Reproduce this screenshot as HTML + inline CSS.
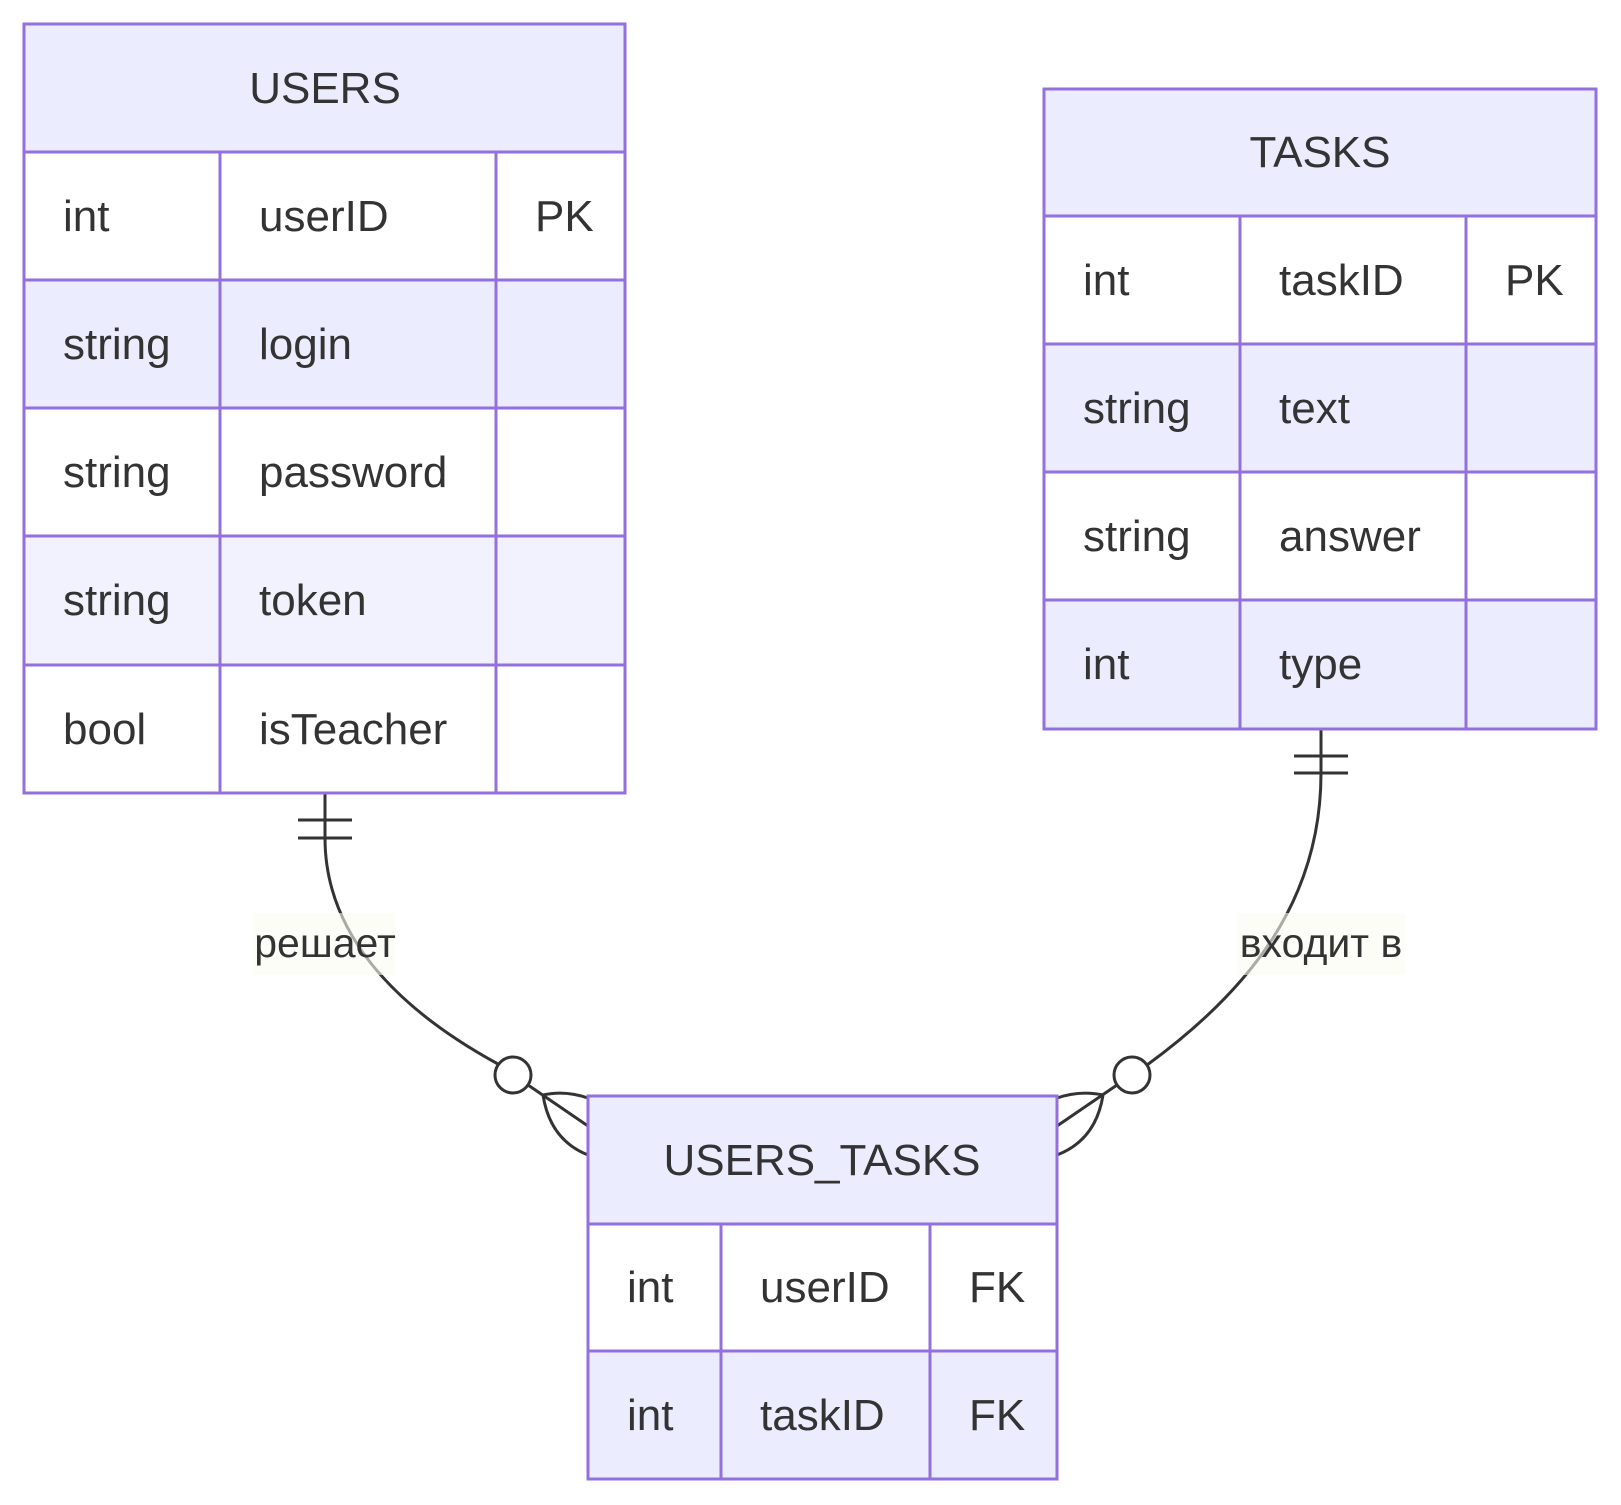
<!DOCTYPE html>
<html><head><meta charset="utf-8"><style>
html,body{margin:0;padding:0;background:#fff;}
svg{display:block;}
text{font-family:"Liberation Sans","DejaVu Sans",sans-serif;fill:#333;}
</style></head><body>
<svg width="1621" height="1505" viewBox="0 0 1621 1505" xmlns="http://www.w3.org/2000/svg">
<!-- connectors -->
<g fill="none" stroke="#333" stroke-width="3">
<path d="M325,793 L325,838 C325,930 390,1005 498,1064"/>
<line x1="298" y1="820" x2="352" y2="820"/>
<line x1="298" y1="838" x2="352" y2="838"/>
<circle cx="513" cy="1075" r="18" fill="#fff"/>
<line x1="528" y1="1085" x2="588" y2="1126"/>
<path d="M543,1095 Q565,1090 588,1098"/>
<path d="M543,1095 Q550,1140 588,1155"/>

<path d="M1321,729 L1321,773 C1321,900 1250,990 1147,1065"/>
<line x1="1294" y1="756" x2="1348" y2="756"/>
<line x1="1294" y1="773" x2="1348" y2="773"/>
<circle cx="1132" cy="1075" r="18" fill="#fff"/>
<line x1="1117" y1="1085" x2="1057" y2="1126"/>
<path d="M1103,1095 Q1080,1090 1057,1098"/>
<path d="M1103,1095 Q1096,1140 1057,1155"/>
</g>
<rect x="254" y="913" width="141" height="62" fill="#F8FCF0" opacity="0.6"/>
<text x="325" y="957" font-size="41" text-anchor="middle">решает</text>
<rect x="1237" y="913" width="168" height="62" fill="#F8FCF0" opacity="0.6"/>
<text x="1321" y="957" font-size="41" text-anchor="middle">входит в</text>

<g stroke="#9370DB" stroke-width="3">
<!-- USERS -->
<rect x="24" y="24" width="601" height="128" fill="#ECECFF"/>
<rect x="24" y="152" width="601" height="128" fill="#fff"/>
<rect x="24" y="280" width="601" height="128" fill="#ECECFF"/>
<rect x="24" y="408" width="601" height="128" fill="#fff"/>
<rect x="24" y="536" width="601" height="129" fill="#F2F2FF"/>
<rect x="24" y="665" width="601" height="128" fill="#fff"/>
<line x1="220" y1="152" x2="220" y2="793"/>
<line x1="496" y1="152" x2="496" y2="793"/>
<!-- TASKS -->
<rect x="1044" y="89" width="552" height="127" fill="#ECECFF"/>
<rect x="1044" y="216" width="552" height="128" fill="#fff"/>
<rect x="1044" y="344" width="552" height="128" fill="#ECECFF"/>
<rect x="1044" y="472" width="552" height="128" fill="#fff"/>
<rect x="1044" y="600" width="552" height="129" fill="#ECECFF"/>
<line x1="1240" y1="216" x2="1240" y2="729"/>
<line x1="1466" y1="216" x2="1466" y2="729"/>
<!-- USERS_TASKS -->
<rect x="588" y="1096" width="469" height="128" fill="#ECECFF"/>
<rect x="588" y="1224" width="469" height="127" fill="#fff"/>
<rect x="588" y="1351" width="469" height="128" fill="#ECECFF"/>
<line x1="721" y1="1224" x2="721" y2="1479"/>
<line x1="930" y1="1224" x2="930" y2="1479"/>
</g>

<g font-size="44">
<text x="325" y="103" text-anchor="middle">USERS</text>
<text x="63" y="231">int</text><text x="259" y="231">userID</text><text x="535" y="231">PK</text>
<text x="63" y="359">string</text><text x="259" y="359">login</text>
<text x="63" y="487">string</text><text x="259" y="487">password</text>
<text x="63" y="615">string</text><text x="259" y="615">token</text>
<text x="63" y="744">bool</text><text x="259" y="744">isTeacher</text>

<text x="1320" y="167" text-anchor="middle">TASKS</text>
<text x="1083" y="295">int</text><text x="1279" y="295">taskID</text><text x="1505" y="295">PK</text>
<text x="1083" y="423">string</text><text x="1279" y="423">text</text>
<text x="1083" y="551">string</text><text x="1279" y="551">answer</text>
<text x="1083" y="679">int</text><text x="1279" y="679">type</text>

<text x="822" y="1175" text-anchor="middle">USERS_TASKS</text>
<text x="627" y="1302">int</text><text x="760" y="1302">userID</text><text x="969" y="1302">FK</text>
<text x="627" y="1430">int</text><text x="760" y="1430">taskID</text><text x="969" y="1430">FK</text>
</g>
</svg>
</body></html>
